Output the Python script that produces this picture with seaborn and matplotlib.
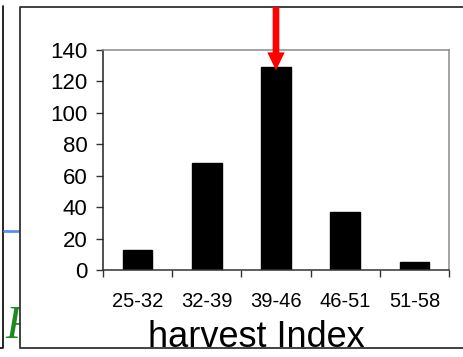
import matplotlib
matplotlib.use("Agg")
import matplotlib.pyplot as plt
from matplotlib.patches import Rectangle
import seaborn as sns
import pandas as pd
import numpy as np

categories = ["25-32", "32-39", "39-46", "46-51", "51-58"]
counts = [13, 68, 129, 37, 5]
y_ticks = [0, 20, 40, 60, 80, 100, 120, 140]
x_label = "harvest Index"

sns.set_theme(style="white")
plt.rcParams['font.family'] = ['Liberation Sans', 'DejaVu Sans']
plt.rcParams['text.color'] = 'black'
plt.rcParams['xtick.color'] = 'black'
plt.rcParams['ytick.color'] = 'black'

W, H = 464, 357
fig = plt.figure(figsize=(W / 100, H / 100), dpi=100)

def fx(px):
    return px / W

def fy(py):
    return 1 - py / H

# decorations from the slide: left vertical line, blue line, green R
fig.add_artist(plt.Line2D([fx(0), fx(3.5), fx(3.5)], [fy(347.5), fy(347.5), fy(6)],
                          color="black", lw=1.2))
fig.add_artist(plt.Line2D([fx(4), fx(20)], [fy(231), fy(231)], color="#5b8ef5", lw=2))
fig.text(fx(5), fy(338), "R", color="#1c8c1c", fontsize=33, style="italic",
         family="Liberation Serif", va="baseline", ha="left", zorder=1)
# white frame (open on the right)
frame = Rectangle((fx(20), fy(348)), fx(W) - fx(20), fy(6.5) - fy(348),
                  transform=fig.transFigure, facecolor="white", edgecolor="none",
                  zorder=2)
fig.add_artist(frame)
fig.add_artist(plt.Line2D([fx(20), fx(W)], [fy(6.5), fy(6.5)],
                          color="#333333", lw=1.3, zorder=2.5, solid_capstyle="butt"))
fig.add_artist(plt.Line2D([fx(20), fx(W)], [fy(348), fy(348)],
                          color="#333333", lw=1.3, zorder=2.5, solid_capstyle="butt"))
fig.add_artist(plt.Line2D([fx(20), fx(20)], [fy(6.5), fy(348)],
                          color="#333333", lw=1.3, zorder=2.5))

ax = fig.add_axes([fx(103), fy(270), fx(449) - fx(103), fy(50) - fy(270)])
ax.set_zorder(3)
ax.patch.set_alpha(0)

df = pd.DataFrame({"cat": categories, "count": counts})
sns.barplot(data=df, x="cat", y="count", color="black", width=0.43,
            saturation=1, ax=ax, edgecolor="black")

ax.set_xlim(-0.5, len(categories) - 0.5)
ax.set_ylim(0, 140)
ax.set_yticks(y_ticks)
ax.set_yticklabels([str(v) for v in y_ticks], fontsize=16, color="black")
ax.set_xticks(range(len(categories)))
ax.set_xticklabels(categories, fontsize=14.5, color="black")
ax.set_xticks(np.arange(-0.5, len(categories), 1.0), minor=True)
ax.tick_params(axis="x", which="major", length=0, pad=16)
ax.tick_params(axis="x", which="minor", length=5, width=1, color="#333333", direction="out",
               bottom=True)
ax.tick_params(axis="y", which="major", length=5, width=1, color="#333333", direction="out",
               left=True, pad=6)
ax.set_xlabel("")
ax.set_ylabel("")

ax.spines["left"].set_color("#222222")
ax.spines["bottom"].set_color("#333333")
ax.spines["top"].set_color("#8a8a8a")
ax.spines["right"].set_color("#8a8a8a")
for s in ax.spines.values():
    s.set_linewidth(1.1)
    s.set_visible(True)

fig.text(fx(256), fy(347), x_label, fontsize=26, ha="center", va="baseline",
         color="black", zorder=4)

# red arrow pointing to the tallest bar
imax = int(np.argmax(counts))
ax.annotate("", xy=(imax, counts[imax] - 2), xycoords="data",
            xytext=(imax, fy(7)), textcoords=("data", "figure fraction"),
            arrowprops=dict(arrowstyle="simple,head_length=13,head_width=12.5,tail_width=4.8",
                            mutation_scale=1, color="#ff0000", lw=0, shrinkA=0, shrinkB=0),
            annotation_clip=False, zorder=5)

fig.savefig("out.png", dpi=100)
